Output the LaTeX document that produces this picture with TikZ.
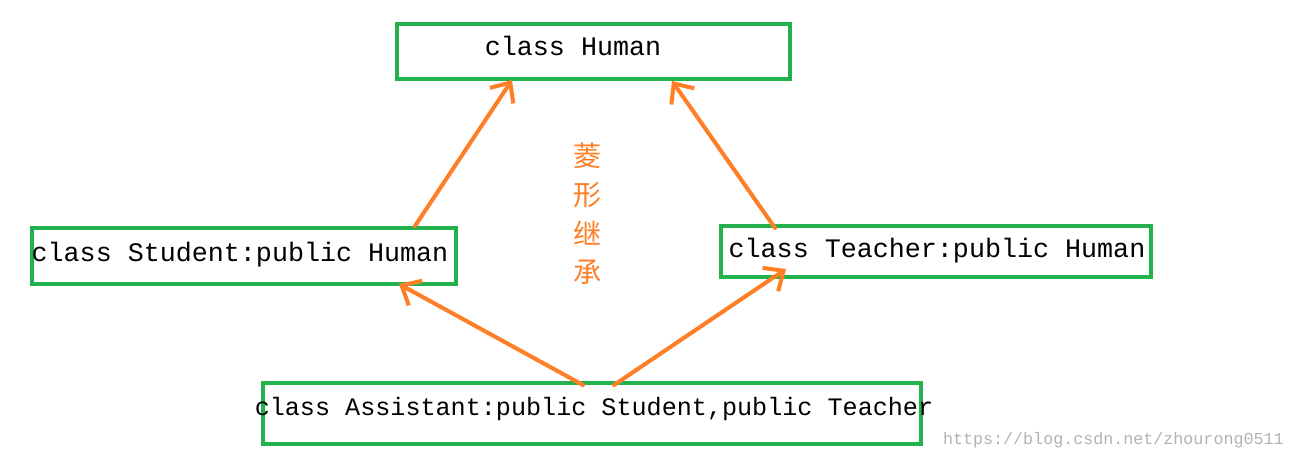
\documentclass[tikz,border=0pt]{standalone}
\usepackage{fontspec}
\setmonofont{Liberation Mono}
\newfontfamily\cjk{Noto Sans CJK SC}
\usetikzlibrary{arrows.meta}
\definecolor{grn}{HTML}{22B14C}
\definecolor{org}{HTML}{FF7F27}
\tikzset{
  box/.style={draw=grn, line width=2.3pt, inner sep=0pt},
  lbl/.style={font=\ttfamily\fontsize{15.2}{16}\selectfont, inner sep=0pt},
  inh/.style={draw=org, line width=2.3pt, line cap=round, -{Straight Barb[length=9pt,width=16pt,line width=2.3pt]}}
}
\begin{document}
\begin{tikzpicture}[x=0.02cm,y=-0.02cm]
\useasboundingbox (0,0) rectangle (1295,460);
\node[box, minimum width=393*0.02cm, minimum height=55*0.02cm] (hb) at (593.5,51.5) {};
\node[lbl] (ht) at (573,46) {class Human};
\node[box, minimum width=424*0.02cm, minimum height=56*0.02cm] (sb) at (244,256) {};
\node[lbl] (st) at (240,255) {class Student:public Human};
\node[box, minimum width=430*0.02cm, minimum height=51*0.02cm] (tb) at (936,251.5) {};
\node[lbl] (tt) at (937,251) {class Teacher:public Human};
\node[box, minimum width=658*0.02cm, minimum height=61*0.02cm] (ab) at (592,413.5) {};
\node[lbl, font=\ttfamily\fontsize{14.3}{16}\selectfont] (at) at (594,409) {class Assistant:public Student,public Teacher};
\node[text=org, font=\cjk\fontsize{16}{22}\selectfont, align=center, inner sep=0pt] (cn) at (588,214) {菱\\形\\继\\承};
\node[text=gray!60, font=\ttfamily\fontsize{9.5}{10}\selectfont, anchor=east, inner sep=0pt] (wm) at (1284,440) {https://blog.csdn.net/zhourong0511};
\coordinate (s1) at (415,226); \coordinate (h1) at (512,80);
\coordinate (t1) at (775,228); \coordinate (h2) at (672,81);
\coordinate (a1) at (583,385); \coordinate (s2) at (399,284);
\coordinate (a2) at (614,385); \coordinate (t2) at (786,269);
\draw[inh] (s1) -- (h1);
\draw[inh] (t1) -- (h2);
\draw[inh] (a1) -- (s2);
\draw[inh] (a2) -- (t2);
\end{tikzpicture}
\end{document}
